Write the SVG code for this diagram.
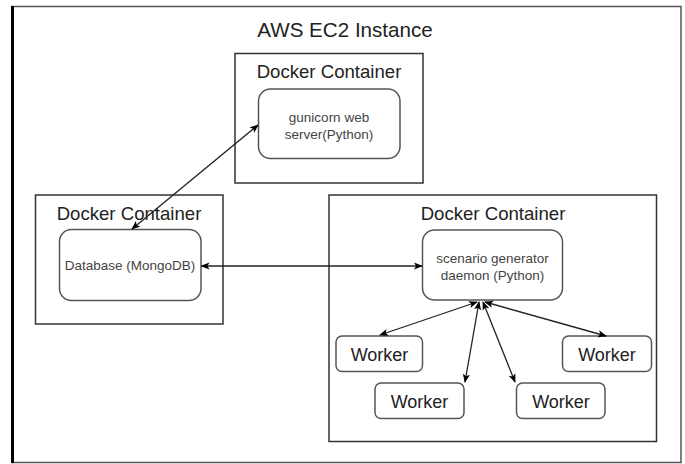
<svg xmlns="http://www.w3.org/2000/svg" width="685" height="464" viewBox="0 0 685 464">
<defs>
<marker id="ah" viewBox="0 0 10 10" refX="9" refY="5" markerWidth="9" markerHeight="9" markerUnits="userSpaceOnUse" orient="auto-start-reverse">
<path d="M0,1 L10,5 L0,9 L2.5,5 Z" fill="#000"/>
</marker>
<style>
.cont{fill:#fff;stroke:#333;stroke-width:1.5}
.box{fill:#fff;stroke:#555;stroke-width:1.5}
.ttl{font-family:"Liberation Sans",Arial,sans-serif;font-size:18.6px;fill:#222;text-anchor:middle}
.lbl{font-family:"Liberation Sans",Arial,sans-serif;font-size:13.5px;fill:#444;text-anchor:middle}
.wk{font-family:"Liberation Sans",Arial,sans-serif;font-size:18px;fill:#222;text-anchor:middle}
.conn line{stroke:#222;stroke-width:1.3;marker-start:url(#ah);marker-end:url(#ah)}
</style>
</defs>
<rect width="685" height="464" fill="#fff"/>
<g id="ec2">
<rect x="12" y="6.5" width="669" height="456" fill="#fff" stroke="#555" stroke-width="1.5"/>
<line x1="12.5" y1="6" x2="12.5" y2="463" stroke="#000" stroke-width="3"/>
<text x="345" y="36.5" font-family="'Liberation Sans',Arial,sans-serif" font-size="20.6" fill="#222" text-anchor="middle">AWS EC2 Instance</text>
</g>
<g id="web-container">
<rect class="cont" x="235" y="53.5" width="188" height="129.5"/>
<text class="ttl" x="329" y="78">Docker Container</text>
</g>
<g id="gunicorn">
<rect class="box" x="258.5" y="89" width="141.5" height="69.5" rx="12"/>
<text class="lbl" x="329" y="121.5">gunicorn web</text>
<text class="lbl" x="329" y="138.5">server(Python)</text>
</g>
<g id="db-container">
<rect class="cont" x="35.5" y="195" width="187.5" height="129"/>
<text class="ttl" x="129" y="220">Docker Container</text>
</g>
<g id="database">
<rect class="box" x="59.5" y="229.5" width="141.5" height="71" rx="12"/>
<text class="lbl" x="130" y="270">Database (MongoDB)</text>
</g>
<g id="gen-container">
<rect class="cont" x="329" y="195" width="327.5" height="246.5"/>
<text class="ttl" x="493" y="220">Docker Container</text>
</g>
<g id="generator">
<rect class="box" x="422.5" y="230" width="140" height="70" rx="12"/>
<text class="lbl" x="492.5" y="262.5">scenario generator</text>
<text class="lbl" x="492.5" y="280">daemon (Python)</text>
</g>
<g id="worker1">
<rect class="box" x="336" y="336" width="86.5" height="35.5" rx="6"/>
<text class="wk" x="379.5" y="360.5">Worker</text>
</g>
<g id="worker2">
<rect class="box" x="375" y="383" width="89" height="35.5" rx="6"/>
<text class="wk" x="419.5" y="407.5">Worker</text>
</g>
<g id="worker3">
<rect class="box" x="516.5" y="383" width="88.5" height="35.5" rx="6"/>
<text class="wk" x="561" y="407.5">Worker</text>
</g>
<g id="worker4">
<rect class="box" x="562.5" y="336" width="89" height="35.5" rx="6"/>
<text class="wk" x="607" y="360.5">Worker</text>
</g>
<g id="connectors" class="conn">
<line x1="132" y1="229" x2="258" y2="125"/>
<line x1="201.5" y1="266" x2="422" y2="266"/>
<line x1="477" y1="302" x2="380" y2="335"/>
<line x1="479" y1="302" x2="465" y2="382"/>
<line x1="483" y1="302" x2="515" y2="382"/>
<line x1="485" y1="302" x2="606" y2="336"/>
</g>
</svg>
